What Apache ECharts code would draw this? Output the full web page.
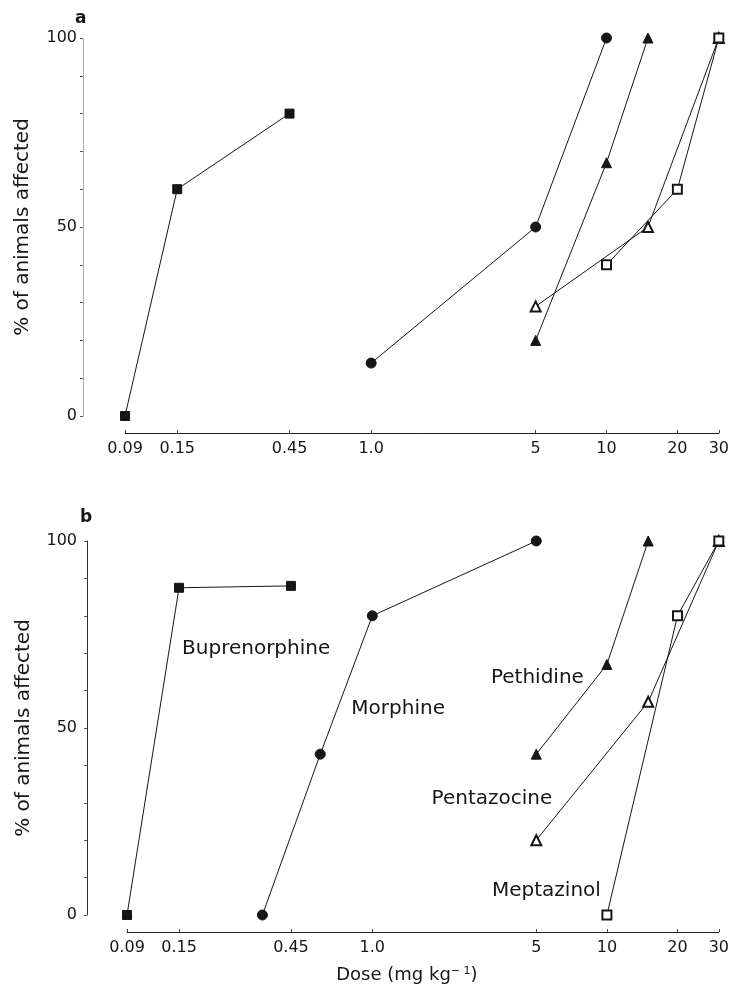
<!DOCTYPE html>
<html>
<head>
<meta charset="utf-8">
<script src="https://cdn.jsdelivr.net/npm/echarts@6/dist/echarts.min.js"></script>
<style>
  html, body { margin: 0; padding: 0; background: #fff; }
  #chart { width: 732px; height: 989px; }
</style>
</head>
<body>
<div id="chart"></div>
<script>
'use strict';

// dose (mg/kg) tick labels and % tick labels
const doseTicks = [0.09, 0.15, 0.45, 1, 5, 10, 20, 30];
const pctTicks = [0, 50, 100];

const drugs = ['Buprenorphine', 'Morphine', 'Pethidine', 'Pentazocine', 'Meptazinol'];

// panel a: [dose, % of animals affected]
const buprenorphineA = [[0.09, 0], [0.15, 60], [0.45, 80]];
const morphineA = [[1, 14], [5, 50], [10, 100]];
const pethidineA = [[5, 20], [10, 67], [15, 100]];
const pentazocineA = [[5, 29], [15, 50], [30, 100]];
const meptazinolA = [[10, 40], [20, 60], [30, 100]];

// panel b
const buprenorphineB = [[0.09, 0], [0.15, 87.5], [0.45, 88]];
const morphineB = [[0.34, 0], [0.6, 43], [1, 80], [5, 100]];
const pethidineB = [[5, 43], [10, 67], [15, 100]];
const pentazocineB = [[5, 20], [15, 57], [30, 100]];
const meptazinolB = [[10, 0], [20, 80], [30, 100]];

const panelA = [buprenorphineA, morphineA, pethidineA, pentazocineA, meptazinolA];
const panelB = [buprenorphineB, morphineB, pethidineB, pentazocineB, meptazinolB];

const FONT = '"DejaVu Sans", "Liberation Sans", Arial, sans-serif';
const INK = '#161616';

const markers = {
  Buprenorphine: { symbol: 'rect', size: 9 },
  Morphine: { symbol: 'circle', size: 10 },
  Pethidine: { symbol: 'triangle', size: 10 },
  Pentazocine: { symbol: 'emptyTriangle', size: 10 },
  Meptazinol: { symbol: 'emptyRect', size: 9 },
};

// where each drug name sits in panel b, relative to one of its points
const nameTags = {
  Buprenorphine: { index: 1, align: 'left', offset: [3, 61] },
  Morphine: { index: 2, align: 'left', offset: [-21, 93] },
  Pethidine: { index: 1, align: 'right', offset: [-23, 13] },
  Pentazocine: { index: 0, align: 'right', offset: [16, -41] },
  Meptazinol: { index: 0, align: 'right', offset: [-6, -24] },
};

function doseLabel(v) {
  const hit = doseTicks.find((t) => Math.abs(t - v) / t < 1e-6);
  const d = hit === undefined ? v : hit;
  return d === 1 ? '1.0' : String(d);
}

function xAxis(gridIndex, withName) {
  const axis = {
    type: 'log',
    gridIndex,
    min: 0.09,
    max: 30,
    offset: 17,
    axisLine: { onZero: false, lineStyle: { color: '#222', width: 1 } },
    axisTick: { show: true, inside: true, length: 3, customValues: doseTicks, lineStyle: { color: '#444' } },
    axisLabel: {
      customValues: doseTicks,
      formatter: doseLabel,
      margin: 8,
      fontFamily: FONT,
      fontSize: 16,
      color: INK,
    },
    splitLine: { show: false },
    minorTick: { show: false },
  };
  if (withName) {
    axis.name = 'Dose (mg kg{sup|\u2212 1})';
    axis.nameLocation = 'middle';
    axis.nameGap = 34;
    axis.nameTextStyle = {
      fontFamily: FONT,
      fontSize: 18,
      color: INK,
      padding: [0, 32, 0, 0],
      rich: { sup: { fontFamily: FONT, fontSize: 11, color: INK, verticalAlign: 'top', padding: [0, 0, 6, 0] } },
    };
  }
  return axis;
}

function yAxis(gridIndex, offset, dotted, nameGap) {
  return {
    type: 'value',
    gridIndex,
    min: 0,
    max: 100,
    interval: 10,
    offset,
    name: '% of animals affected',
    nameLocation: 'middle',
    nameGap,
    nameRotate: 90,
    nameTextStyle: { fontFamily: FONT, fontSize: 20, color: INK },
    axisLine: {
      show: true,
      onZero: false,
      lineStyle: dotted ? { color: '#999', type: 'dotted', width: 1 } : { color: '#333', width: 1 },
    },
    axisTick: { show: true, length: 3, lineStyle: { color: '#555' } },
    axisLabel: {
      formatter: (v) => (pctTicks.indexOf(v) >= 0 ? String(v) : ''),
      margin: dotted ? 6 : 10,
      fontFamily: FONT,
      fontSize: 16,
      color: INK,
    },
    splitLine: { show: false },
  };
}

function makeSeries(points, drug, idx, tagged) {
  const m = markers[drug];
  const tag = nameTags[drug];
  const data = points.map((p, i) => {
    if (!tagged || i !== tag.index) return p;
    return {
      value: p,
      label: {
        show: true,
        position: 'inside',
        align: tag.align,
        verticalAlign: 'middle',
        offset: tag.offset,
        formatter: drug,
        fontFamily: FONT,
        fontSize: 20,
        color: INK,
        textBorderWidth: 0,
      },
    };
  });
  return {
    type: 'line',
    name: drug,
    xAxisIndex: idx,
    yAxisIndex: idx,
    data,
    symbol: m.symbol,
    symbolSize: m.size,
    showAllSymbol: true,
    clip: false,
    lineStyle: { color: INK, width: 1 },
    itemStyle: { color: INK, borderColor: INK, borderWidth: 1 },
    emphasis: { disabled: true },
    z: drug === 'Meptazinol' ? 3 : 2,
  };
}

const chart = echarts.init(document.getElementById('chart'), null, { renderer: 'canvas' });

chart.setOption({
  animation: false,
  backgroundColor: '#fff',
  title: [
    { text: 'a', left: 70, top: 5, textStyle: { fontFamily: FONT, fontSize: 17, fontWeight: 'bold', color: INK } },
    { text: 'b', left: 75, top: 504, textStyle: { fontFamily: FONT, fontSize: 17, fontWeight: 'bold', color: INK } },
  ],
  grid: [
    { left: 125, top: 38, width: 595, height: 378 },
    { left: 127, top: 541, width: 594, height: 374 },
  ],
  xAxis: [xAxis(0, false), xAxis(1, true)],
  yAxis: [yAxis(0, 42, true, 50), yAxis(1, 40, false, 53)],
  series: [
    ...drugs.map((d, i) => makeSeries(panelA[i], d, 0, false)),
    ...drugs.map((d, i) => makeSeries(panelB[i], d, 1, true)),
  ],
});
</script>
</body>
</html>
